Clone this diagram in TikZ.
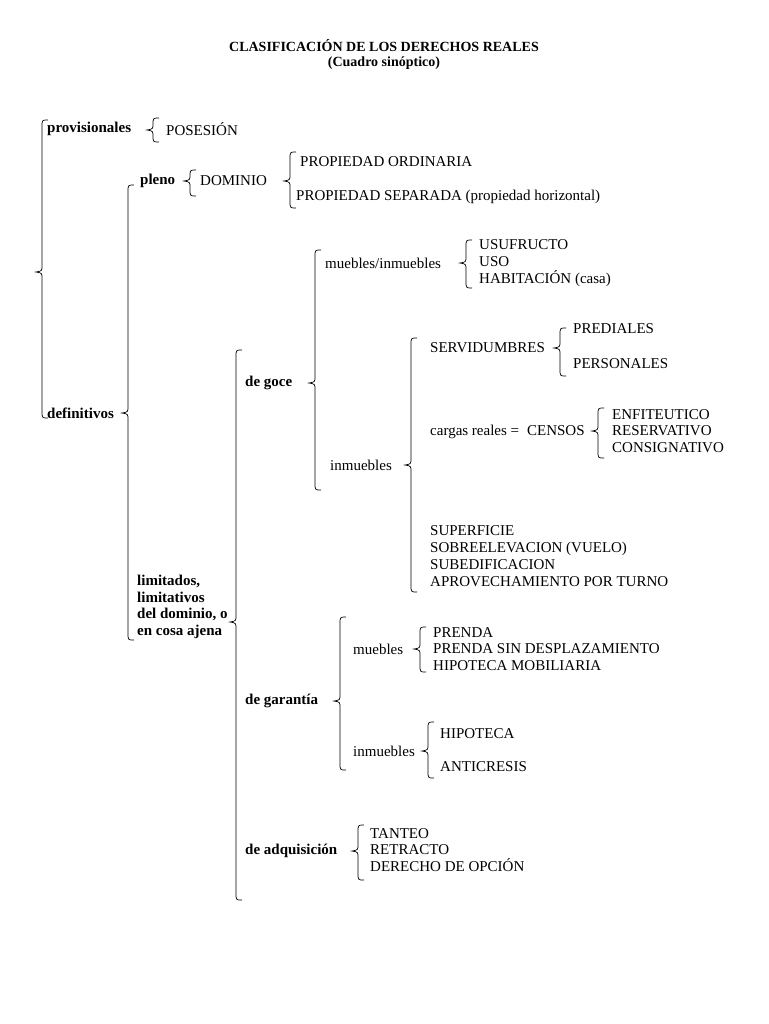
\documentclass[tikz,border=0pt]{standalone}
\usepackage{fontspec}
\setmainfont{Liberation Serif}
\usetikzlibrary{positioning}
\tikzset{
  cslabel/.style={anchor=west, inner sep=0pt, font=\fontsize{15}{16.6}\selectfont\bfseries, align=left},
  csitem/.style={anchor=west, inner sep=0pt, font=\fontsize{15}{16.8}\selectfont, align=left},
  cstitle/.style={inner sep=0pt, font=\fontsize{14}{16}\selectfont\bfseries},
  csbrace/.style={draw, line width=0.7pt},
}
% curly brace opening to the right: x, top, tip, bottom (y downwards)
\newcommand{\csbrace}[4]{%
  \draw[csbrace] (#1+6,#2) .. controls (#1,#2) .. (#1,#2+7)
    -- (#1,#3-7) .. controls (#1,#3-1) .. (#1-6,#3)
    .. controls (#1,#3+1) .. (#1,#3+7)
    -- (#1,#4-7) .. controls (#1,#4) .. (#1+6,#4);}
\begin{document}
\begin{tikzpicture}[x=1pt, y=-1pt]
  \useasboundingbox (0,0) rectangle (768,1024);
  % Title.
  \node[cstitle] (title) at (384,46) {CLASIFICACIÓN DE LOS DERECHOS REALES};
  \node[cstitle, below=4pt of title] (subtitle) {(Cuadro sinóptico)};

  % First level.
  \csbrace{42}{120}{272}{418}
  \node[cslabel] (prov) at (47,129) {provisionales};
  \node[cslabel] (defin) at (47,413) {definitivos};
  \csbrace{153}{118}{130}{142}
  \node[csitem] (posesion) at (166,129) {POSESIÓN};

  % Definitivos.
  \csbrace{128}{185}{413}{640}
  \node[cslabel] (pleno) at (140,181) {pleno};
  \node[cslabel] (limit) at (137,607) {limitados,\\limitativos\\del dominio, o\\en cosa ajena};
  \csbrace{190}{170}{181}{196}
  \node[csitem] (dominio) at (200,181) {DOMINIO};
  \csbrace{290}{152}{181}{208}
  \node[csitem] (ordin) at (300,162) {PROPIEDAD ORDINARIA};
  \node[csitem] (separ) at (296,197) {PROPIEDAD SEPARADA (propiedad horizontal)};

  % Limitados.
  \csbrace{236}{350}{622}{900}
  \node[cslabel] (goce) at (245,383) {de goce};
  \node[cslabel] (garant) at (245,701) {de garantía};
  \node[cslabel] (adquis) at (245,851) {de adquisición};

  % De goce.
  \csbrace{315}{250}{383}{490}
  \node[csitem] (mueinm) at (325,263) {muebles/inmuebles};
  \csbrace{466}{240}{263}{288}
  \node[csitem] (usufr) at (479,263) {USUFRUCTO\\USO\\HABITACIÓN (casa)};
  \node[csitem] (inmgoce) at (330,465) {inmuebles};
  \csbrace{411}{338}{465}{592}
  \node[csitem] (servid) at (430,348) {SERVIDUMBRES};
  \csbrace{560}{328}{348}{376}
  \node[csitem] (pred) at (573,329) {PREDIALES};
  \node[csitem] (pers) at (573,364) {PERSONALES};
  \node[csitem] (censos) at (430,432) {cargas reales =\; CENSOS};
  \csbrace{598}{408}{431}{458}
  \node[csitem] (enfit) at (612,431) {ENFITEUTICO\\RESERVATIVO\\CONSIGNATIVO};
  \node[csitem] (superf) at (430,556) {SUPERFICIE\\SOBREELEVACION (VUELO)\\SUBEDIFICACION\\APROVECHAMIENTO POR TURNO};

  % De garantia.
  \csbrace{340}{617}{701}{770}
  \node[csitem] (muegar) at (353,649) {muebles};
  \csbrace{420}{627}{649}{672}
  \node[csitem] (prenda) at (433,649) {PRENDA\\PRENDA SIN DESPLAZAMIENTO\\HIPOTECA MOBILIARIA};
  \node[csitem] (inmgar) at (353,751) {inmuebles};
  \csbrace{428}{722}{751}{778}
  \node[csitem] (hipot) at (440,734) {HIPOTECA};
  \node[csitem] (antic) at (440,767) {ANTICRESIS};

  % De adquisicion.
  \csbrace{358}{825}{851}{880}
  \node[csitem] (tanteo) at (370,850) {TANTEO\\RETRACTO\\DERECHO DE OPCIÓN};
\end{tikzpicture}
\end{document}
